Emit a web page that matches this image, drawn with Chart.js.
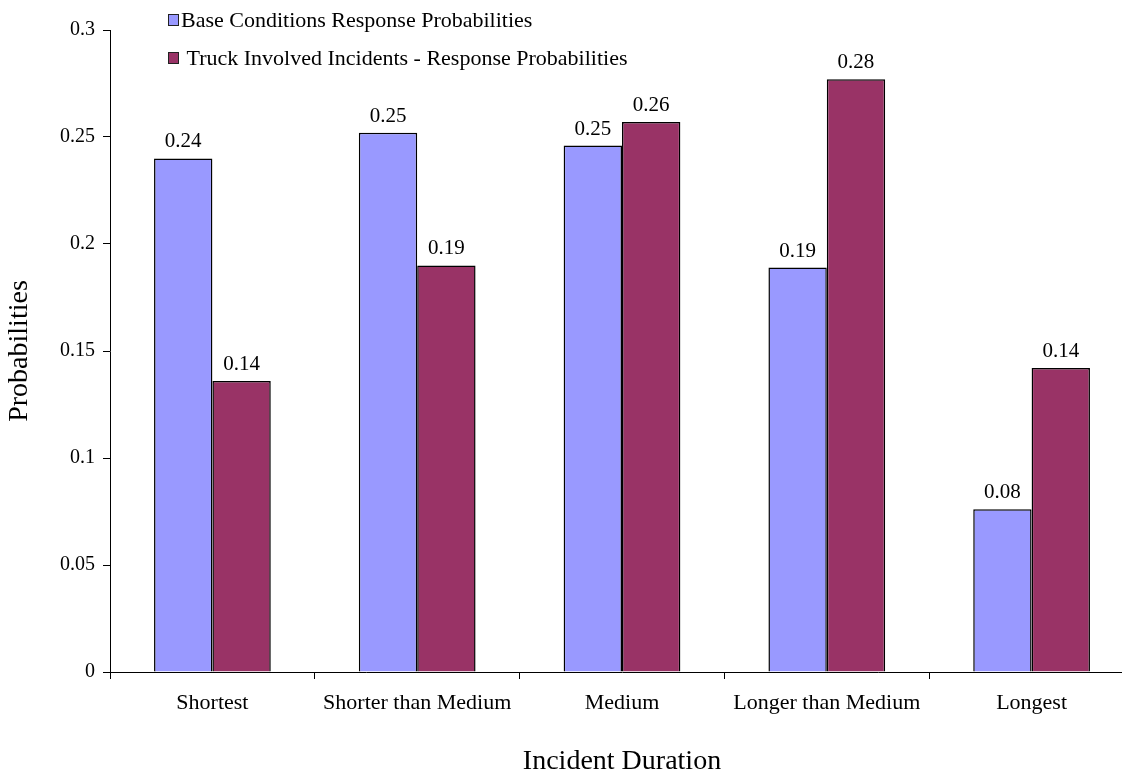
<!DOCTYPE html>
<html>
<head>
<meta charset="utf-8">
<script src="https://cdn.jsdelivr.net/npm/chart.js@4.4.0/dist/chart.umd.min.js"></script>
<style>
    body { margin: 0; background: #fff; overflow: hidden; font-family: "Liberation Serif", serif; }
    #wrap { position: relative; width: 1134px; height: 776px; }
    .legend { position: absolute; left: 168px; font-size: 22px; line-height: 22px; color: #000; white-space: nowrap; }
    .legend span.box { display: inline-block; width: 9px; height: 10px; border: 1px solid #222; margin-right: 2px; vertical-align: 1px; }
</style>
</head>
<body>
<div id="wrap">
    <canvas id="chart"></canvas>
    <div class="legend" style="top: 9px;"><span class="box" style="background:#9999FF"></span>Base Conditions Response Probabilities</div>
    <div class="legend" style="top: 47px;"><span class="box" style="background:#993366"></span>&nbsp;Truck Involved Incidents - Response Probabilities</div>
</div>
<script>
const categories = ['Shortest', 'Shorter than Medium', 'Medium', 'Longer than Medium', 'Longest'];
const baseValues = [0.240, 0.252, 0.246, 0.189, 0.076];
const truckValues = [0.136, 0.190, 0.257, 0.277, 0.142];
const yTicks = [0, 0.05, 0.1, 0.15, 0.2, 0.25, 0.3];

const serif = '"Liberation Serif", serif';

// value labels above each bar
const barLabels = {
    id: 'barLabels',
    afterDatasetsDraw(chart) {
        const ctx = chart.ctx;
        ctx.save();
        ctx.font = '21px ' + serif;
        ctx.fillStyle = '#000';
        ctx.textAlign = 'center';
        ctx.textBaseline = 'alphabetic';
        chart.data.datasets.forEach((ds, i) => {
            chart.getDatasetMeta(i).data.forEach((bar, j) => {
                ctx.fillText(ds.data[j].toFixed(2), bar.x, bar.y - 11);
            });
        });
        ctx.restore();
    }
};

new Chart(document.getElementById('chart'), {
    type: 'bar',
    data: {
        labels: categories,
        datasets: [{
            label: 'Base Conditions Response Probabilities',
            data: baseValues,
            backgroundColor: '#9999FF',
            borderColor: '#000',
            borderWidth: 1.5,
            barPercentage: 1,
            categoryPercentage: 0.57
        }, {
            label: 'Truck Involved Incidents - Response Probabilities',
            data: truckValues,
            backgroundColor: '#993366',
            borderColor: '#000',
            borderWidth: 1.5,
            barPercentage: 1,
            categoryPercentage: 0.57
        }]
    },
    options: {
        responsive: true,
        maintainAspectRatio: false,
        animation: false,
        layout: { padding: { top: 30, right: 0, left: 0, bottom: 0 } },
        plugins: {
            legend: { display: false },
            tooltip: { enabled: false }
        },
        scales: {
            x: {
                grid: { offset: true, drawOnChartArea: false, drawTicks: true, tickLength: 7, color: '#000' },
                border: { color: '#000', width: 1 },
                ticks: { color: '#000', font: { family: serif, size: 22 }, padding: 11, maxRotation: 0 },
                title: { display: true, text: 'Incident Duration', color: '#000', font: { family: serif, size: 28, lineHeight: 1 }, padding: 0 },
                afterFit(scale) { scale.height = 104; }
            },
            y: {
                min: 0,
                max: 0.3,
                afterBuildTicks(scale) { scale.ticks = yTicks.map(v => ({ value: v })); },
                grid: { drawOnChartArea: false, drawTicks: true, tickLength: 7, color: '#000' },
                border: { color: '#000', width: 1 },
                ticks: { color: '#000', font: { family: serif, size: 20 }, padding: 8, callback: v => String(v) },
                title: { display: true, text: 'Probabilities', color: '#000', font: { family: serif, size: 28, lineHeight: 1 }, padding: { top: 6, bottom: 0 } },
                afterFit(scale) { scale.width = 110; }
            }
        }
    },
    plugins: [barLabels]
});
</script>
</body>
</html>
